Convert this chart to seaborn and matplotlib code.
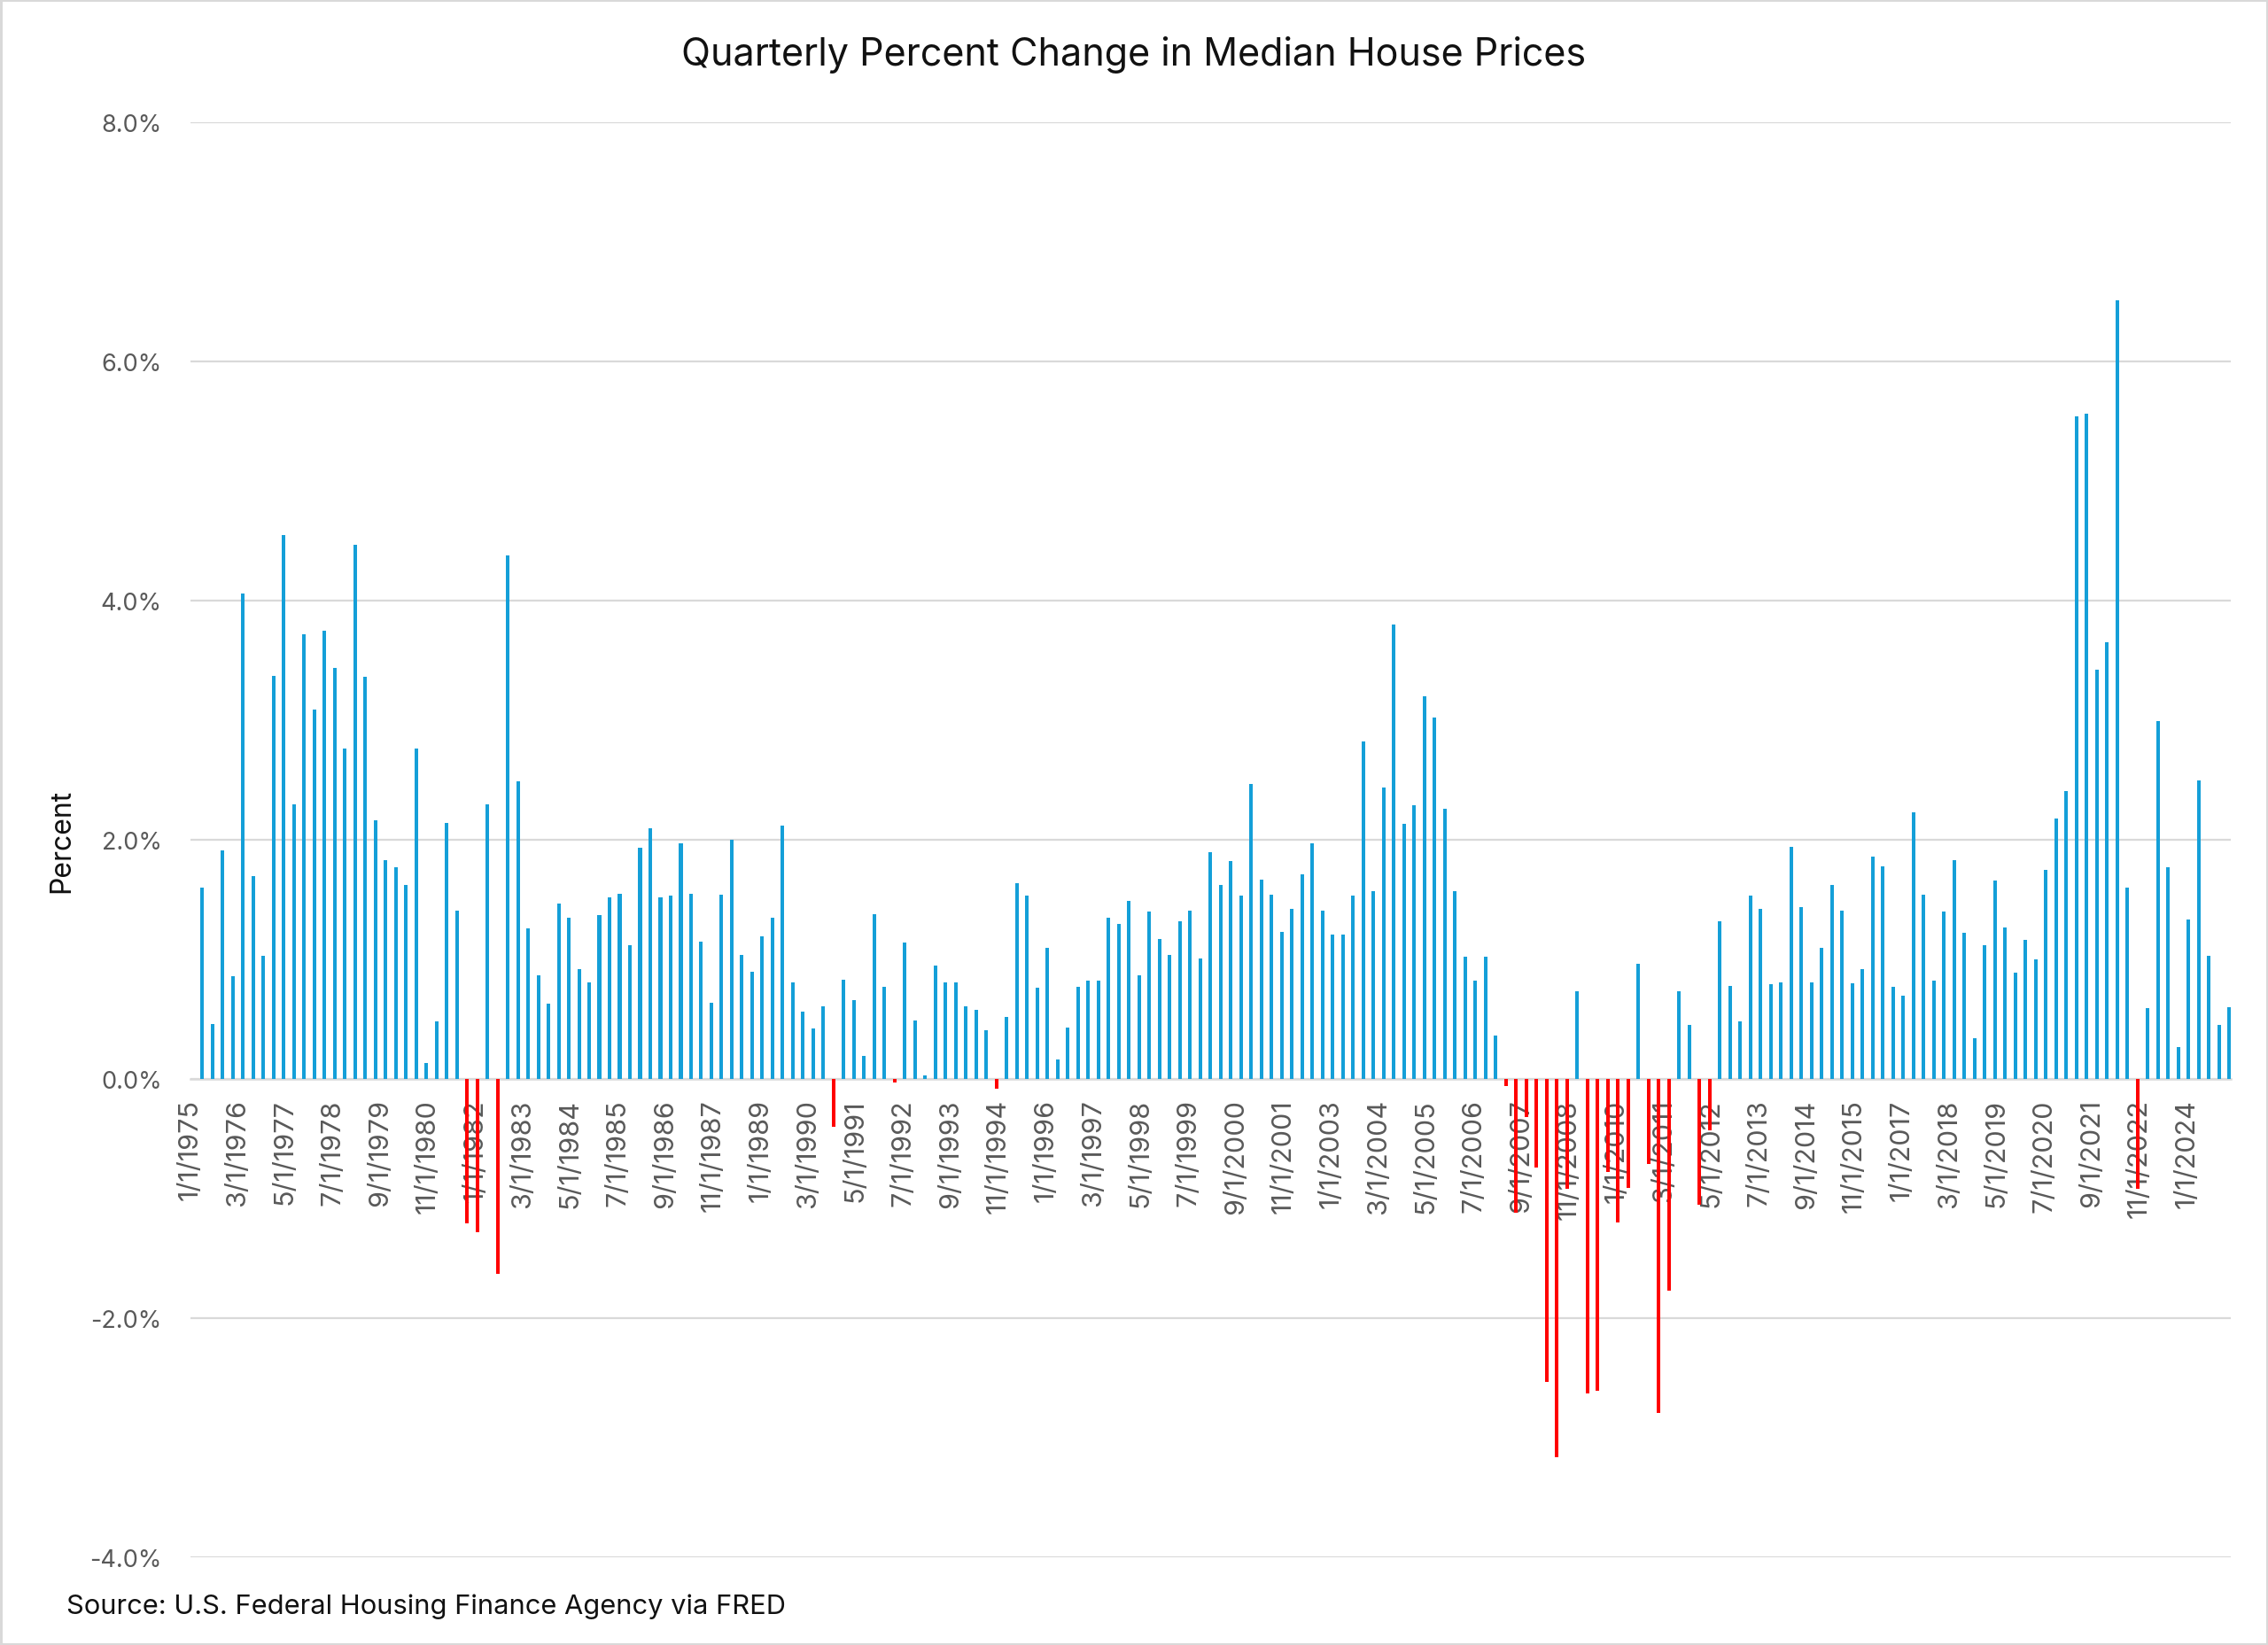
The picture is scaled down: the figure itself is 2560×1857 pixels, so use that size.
import numpy as np
import pandas as pd
import matplotlib
matplotlib.use("Agg")
import matplotlib.pyplot as plt
import seaborn as sns
from matplotlib.ticker import FixedLocator, FuncFormatter

# ---------------- data ----------------
first_quarter = "1975-04-01"
pct_change = [
    1.60, 0.46, 1.91, 0.86, 4.06, 1.70, 1.03, 3.37, 4.55, 2.30, 3.72, 3.09, 3.75, 3.44, 2.76, 4.47, 3.36, 2.16, 1.83, 1.77, 1.62, 2.76, 0.13, 0.48, 2.14,
    1.41, -1.21, -1.28, 2.30, -1.63, 4.38, 2.49, 1.26, 0.87, 0.63, 1.47, 1.35, 0.92, 0.81, 1.37, 1.52, 1.55, 1.12, 1.93, 2.10, 1.52, 1.53, 1.97, 1.55, 1.15,
    0.64, 1.54, 2.00, 1.04, 0.90, 1.19, 1.35, 2.12, 0.81, 0.56, 0.42, 0.61, -0.40, 0.83, 0.66, 0.19, 1.38, 0.77, -0.03, 1.14, 0.49, 0.03, 0.95, 0.81, 0.81,
    0.61, 0.58, 0.41, -0.08, 0.52, 1.64, 1.53, 0.76, 1.10, 0.16, 0.43, 0.77, 0.82, 0.82, 1.35, 1.30, 1.49, 0.87, 1.40, 1.17, 1.04, 1.32, 1.41, 1.01, 1.90,
    1.62, 1.82, 1.53, 2.47, 1.67, 1.54, 1.23, 1.42, 1.71, 1.97, 1.41, 1.21, 1.21, 1.53, 2.82, 1.57, 2.44, 3.80, 2.13, 2.29, 3.20, 3.02, 2.26, 1.57, 1.02,
    0.82, 1.02, 0.36, -0.06, -1.12, -0.32, -0.74, -2.53, -3.16, -0.92, 0.73, -2.63, -2.61, -0.78, -1.20, -0.91, 0.96, -0.71, -2.79, -1.77, 0.73, 0.45, -1.05, -0.43, 1.32,
    0.78, 0.48, 1.53, 1.42, 0.79, 0.81, 1.94, 1.44, 0.81, 1.10, 1.62, 1.41, 0.80, 0.92, 1.86, 1.78, 0.77, 0.70, 2.23, 1.54, 0.82, 1.40, 1.83, 1.22, 0.34,
    1.12, 1.66, 1.27, 0.89, 1.16, 1.00, 1.75, 2.18, 2.41, 5.54, 5.56, 3.42, 3.65, 6.51, 1.60, -0.92, 0.59, 2.99, 1.77, 0.27, 1.33, 2.50, 1.03, 0.45, 0.60,
]
axis_start = "1975-01-01"
axis_end = "2025-02-01"
tick_first = "1975-01-01"
tick_last = "2024-01-01"
tick_step_months = 14
y_ticks = [-4, -2, 0, 2, 4, 6, 8]

title = "Quarterly Percent Change in Median House Prices"
y_label = "Percent"
source = "Source: U.S. Federal Housing Finance Agency via FRED"

BLUE = "#149fd8"
RED = "#ff0000"
GRID = "#d9d9d9"
TXT_GREY = "#595959"

# ---------------- helpers ----------------
t0 = pd.Timestamp(axis_start)
def month_index(d):
    d = pd.Timestamp(d)
    return (d.year - t0.year) * 12 + (d.month - t0.month)

dates = pd.date_range(first_quarter, periods=len(pct_change), freq="QS")
df = pd.DataFrame({
    "x": [month_index(d) + 0.5 for d in dates],
    "pct": pct_change,
})
df["dir"] = np.where(df["pct"] >= 0, "up", "down")

tick_dates = pd.date_range(tick_first, tick_last, freq=f"{tick_step_months}MS")
tick_pos = [month_index(d) for d in tick_dates]
tick_labels = [f"{d.month}/{d.day}/{d.year}" for d in tick_dates]

# ---------------- plot ----------------
sns.set_theme(style="white")
plt.rcParams["font.family"] = ["Inter", "Lato", "DejaVu Sans"]
plt.rcParams["axes.unicode_minus"] = False

W, H = 2560, 1858
fig = plt.figure(figsize=(W / 100, H / 100), dpi=100, facecolor="white",
                 edgecolor=GRID, linewidth=2.5)
left_px, right_px, top_px, bottom_px = 214.7, 2518, 139, 1759
ax = fig.add_axes([left_px / W, 1 - bottom_px / H,
                   (right_px - left_px) / W, (bottom_px - top_px) / H])

sns.barplot(data=df, x="x", y="pct", hue="dir",
            palette={"up": BLUE, "down": RED},
            native_scale=True, width=0.35, dodge=False, errorbar=None,
            legend=False, saturation=1, linewidth=0, ax=ax)

ax.set_xlim(0, month_index(axis_end))
ax.set_ylim(-4, 8)

ax.set_axisbelow(True)
ax.yaxis.set_major_locator(FixedLocator(y_ticks))
ax.yaxis.set_major_formatter(FuncFormatter(lambda v, p: f"{v:.1f}%"))
ax.grid(axis="y", color=GRID, linewidth=1.6)
ax.grid(axis="x", visible=False)
ax.tick_params(axis="y", length=0, pad=23, labelsize=19.5, labelcolor=TXT_GREY)

ax.set_xticks(tick_pos, tick_labels)
ax.tick_params(axis="x", direction="out", length=8, width=1.8, color=GRID,
               pad=8, labelsize=22, labelcolor=TXT_GREY, labelrotation=90)

for s in ["left", "right", "top"]:
    ax.spines[s].set_visible(False)
ax.spines["bottom"].set_position(("data", 0))
ax.spines["bottom"].set_color(GRID)
ax.spines["bottom"].set_linewidth(1.8)
ax.spines["bottom"].set_zorder(0.6)
ax.set_xlabel("")
ax.set_ylabel("")

fig.text(0.5, 1 - 62 / H, title, ha="center", va="center", fontsize=31, color="#111111")
fig.text(70 / W, 1 - 949 / H, y_label, ha="center", va="center", rotation=90,
         fontsize=23, color="#111111")
fig.text(75 / W, 1 - 1814 / H, source, ha="left", va="center", fontsize=22.2, color="#111111")

fig.savefig("out.png", dpi=100, facecolor="white", edgecolor=GRID)
